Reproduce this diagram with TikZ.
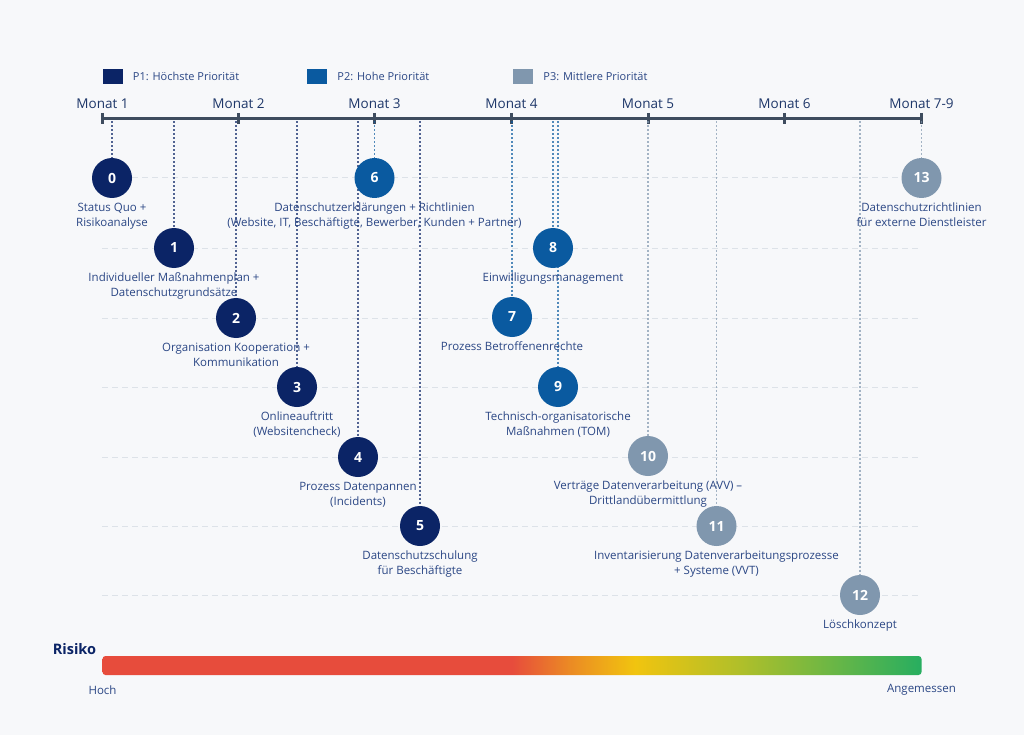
\documentclass[tikz,border=0pt]{standalone}
\usepackage{fontspec}
\setmainfont{Open Sans}
\usetikzlibrary{positioning}

\definecolor{bg}{HTML}{F7F8FA}
\definecolor{pone}{HTML}{0B2466}
\definecolor{ptwo}{HTML}{0A5AA0}
\definecolor{pthree}{HTML}{8097AE}
\definecolor{lbltext}{HTML}{2B4785}
\definecolor{monthtext}{HTML}{1E3769}
\definecolor{axisgrey}{HTML}{3E4C5E}
\definecolor{gridgrey}{HTML}{DDE2E8}
\definecolor{riskred}{HTML}{E74C3C}
\definecolor{riskorange}{HTML}{EB8A24}
\definecolor{riskyellow}{HTML}{F1C40F}
\definecolor{riskolive}{HTML}{AFBF2A}
\definecolor{riskgreen}{HTML}{27AE60}

\pgfdeclarehorizontalshading{risk}{100bp}{color(0bp)=(riskred); color(25bp)=(riskred); color(50bp)=(riskred); color(53.5bp)=(riskorange); color(57.5bp)=(riskyellow); color(64bp)=(riskolive); color(75bp)=(riskgreen); color(100bp)=(riskgreen)}

\tikzset{
  prio/.style={circle, minimum size=40pt, inner sep=0pt, text=white,
    font=\bfseries\fontsize{14}{14}\selectfont},
  lbl/.style={align=center, text=lbltext, inner sep=0pt,
    font=\fontsize{11.5}{15}\selectfont},
  guide/.style={line width=1.1pt, dash pattern=on 2pt off 2pt, draw opacity=0.7},
  gridline/.style={draw=gridgrey, line width=1pt, dash pattern=on 6pt off 4pt},
  legbox/.style={minimum width=20pt, minimum height=15pt, inner sep=0pt},
  legtext/.style={text=lbltext, inner sep=0pt, font=\fontsize{11}{13}\selectfont},
  monthlbl/.style={text=monthtext, inner sep=0pt, font=\fontsize{13.5}{16}\selectfont},
  scalelbl/.style={text=lbltext, inner sep=0pt, font=\fontsize{11.5}{13}\selectfont}
}

\begin{document}
\begin{tikzpicture}[x=1pt, y=-1pt]
  \fill[bg] (0,0) rectangle (1024,735);
  \useasboundingbox (0,0) rectangle (1024,735);

  % legend
  \node[legbox, fill=pone] (k1) at (112.5,76.5) {};
  \node[legtext, right=10pt of k1] (k1t) {P1: Höchste Priorität};
  \node[legbox, fill=ptwo] (k2) at (317,76.5) {};
  \node[legtext, right=10pt of k2] (k2t) {P2: Hohe Priorität};
  \node[legbox, fill=pthree] (k3) at (523,76.5) {};
  \node[legtext, right=10pt of k3] (k3t) {P3: Mittlere Priorität};

  % grid rows
  \foreach \y in {178, 248, 318, 387, 457, 526, 595} {
    \draw[gridline] (102,\y) -- (921,\y);
  }

  % timeline
  \draw[axisgrey, line width=2.5pt] (102.5,118.5) -- (921.5,118.5);
  \foreach \x/\m in {102.5/1, 238.5/2, 374.5/3, 511.5/4, 648/5, 784.5/6, 921.5/{7-9}} {
    \draw[axisgrey, line width=3pt] (\x,113) -- (\x,124);
    \node[monthlbl] (m\m) at (\x,104) {Monat \m};
  }

  % milestones
  \foreach \i/\x/\y/\c in {0/112/178/pone, 1/174/248/pone, 2/236/318/pone,
      3/297/387/pone, 4/358/457/pone, 5/420/526/pone, 6/374.5/178/ptwo,
      7/512/317/ptwo, 8/553/248/ptwo, 9/558/387/ptwo, 10/648/456/pthree,
      11/716.5/526/pthree, 12/860/595/pthree, 13/921.5/178/pthree} {
    \coordinate (top\i) at (\x,121.5);
    \node[prio, fill=\c] (n\i) at (\x,\y) {\i};
    \draw[guide, draw=\c] (top\i) -- (n\i);
  }

  % texts
  \node[lbl, below=4.5pt of n0] (l0) {Status Quo +\\Risikoanalyse};
  \node[lbl, below=4.5pt of n1] (l1) {Individueller Maßnahmenplan +\\Datenschutzgrundsätze};
  \node[lbl, below=4.5pt of n2] (l2) {Organisation Kooperation +\\Kommunikation};
  \node[lbl, below=4.5pt of n3] (l3) {Onlineauftritt\\(Websitencheck)};
  \node[lbl, below=4.5pt of n4] (l4) {Prozess Datenpannen\\(Incidents)};
  \node[lbl, below=4.5pt of n5] (l5) {Datenschutzschulung\\für Beschäftigte};
  \node[lbl, below=4.5pt of n6] (l6) {Datenschutzerklärungen + Richtlinien\\(Website, IT, Beschäftigte, Bewerber, Kunden + Partner)};
  \node[lbl, below=4.5pt of n7] (l7) {Prozess Betroffenenrechte};
  \node[lbl, below=4.5pt of n8] (l8) {Einwilligungsmanagement};
  \node[lbl, below=4.5pt of n9] (l9) {Technisch-organisatorische\\Maßnahmen (TOM)};
  \node[lbl, below=4.5pt of n10] (l10) {Verträge Datenverarbeitung (AVV) –\\Drittlandübermittlung};
  \node[lbl, below=4.5pt of n11] (l11) {Inventarisierung Datenverarbeitungsprozesse\\+ Systeme (VVT)};
  \node[lbl, below=4.5pt of n12] (l12) {Löschkonzept};
  \node[lbl, below=4.5pt of n13] (l13) {Datenschutzrichtlinien\\für externe Dienstleister};

  % risk bar
  \node[text=pone, inner sep=0pt, font=\bfseries\fontsize{14.5}{16}\selectfont] (risk) at (74.5,649) {Risiko};
  \shade[shading=risk, rounded corners=3pt] (102.5,656) rectangle (921.5,675);
  \node[scalelbl] (hoch) at (102.5,690) {Hoch};
  \node[scalelbl] (angem) at (921.5,690) {Angemessen};
\end{tikzpicture}
\end{document}
